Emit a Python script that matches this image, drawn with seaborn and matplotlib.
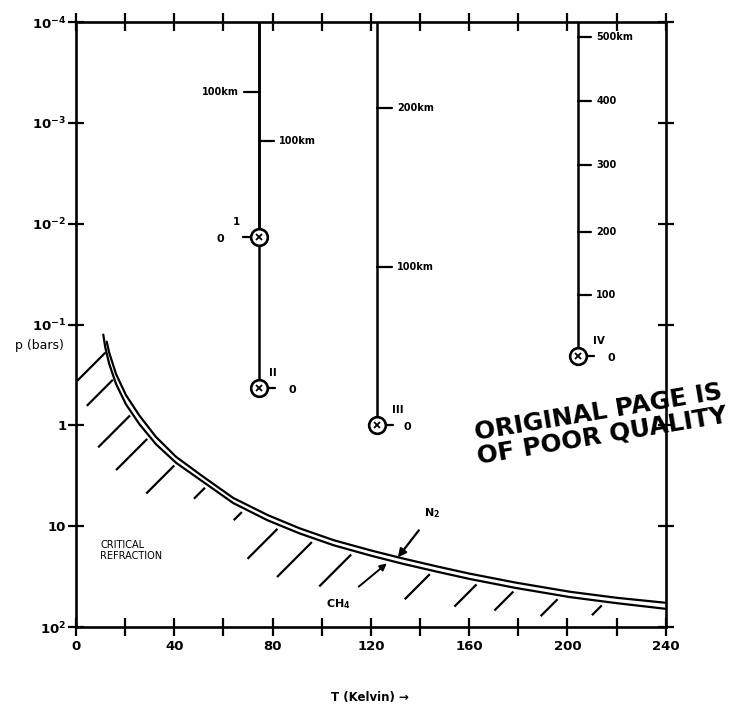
import numpy as np
import matplotlib
matplotlib.use("Agg")
import matplotlib.pyplot as plt
import seaborn as sns
import pandas as pd

# saturation curves, T in K, p in bars
curve_T_n2 = [12.5, 13.5, 16.3, 20.3, 25.8, 32.5, 40.7, 51.5, 64, 78, 91, 105, 120, 133, 147, 160, 179, 201, 220, 240]
curve_p_n2 = [0.148, 0.19, 0.31, 0.50, 0.80, 1.30, 2.05, 3.2, 5.25, 7.76, 10.5, 13.8, 17.4, 20.9, 25.1, 29.5, 36.3, 44.7, 51.3, 57.5]
curve_T_ch4 = [11.1, 11.9, 13.5, 16.3, 20.3, 25.8, 32.5, 40.7, 51.5, 64, 78, 91, 105, 120, 133, 147, 160, 179, 201, 220, 240]
curve_p_ch4 = [0.126, 0.168, 0.245, 0.389, 0.617, 0.973, 1.535, 2.35, 3.6, 5.9, 8.75, 11.8, 15.5, 19.6, 23.6, 28.3, 33.3, 41.0, 50.5, 58.0, 66.0]

# hatching under the curve (T where each stroke meets the curve, stroke length in K)
hatch_T = [12, 15, 22, 29, 40, 52.5, 67.5, 82, 96, 112, 144, 163, 178, 196, 214]
hatch_len = [11.5, 10.6, 13, 12.7, 11.4, 4.5, 3.3, 12.2, 14.2, 13, 10.2, 9, 7.7, 6.9, 4]

# atmosphere profiles: temperature and surface pressure
prof_names = ["1", "II", "III", "IV"]
prof_T = [74.5, 74.5, 122.5, 204.5]
prof_p0 = [0.0136, 0.43, 1.0, 0.206]
prof_side = [-1, 1, 1, 1]

# altitude marks along each profile
km_p = [[5e-4], [1.5e-3], [0.027, 7.2e-4], [0.051, 0.0121, 2.6e-3, 6.1e-4, 1.4e-4]]
km_lab = [["100km"], ["100km"], ["100km", "200km"], ["100", "200", "300", "400", "500km"]]

x_ticks = list(range(0, 241, 20))
x_labels = [str(t) if t % 40 == 0 else "" for t in x_ticks]
y_ticks = [1e-4, 1e-3, 1e-2, 1e-1, 1, 10, 100]
y_labels = [r"$10^{-4}$", r"$10^{-3}$", r"$10^{-2}$", r"$10^{-1}$", "1", "10", r"$10^{2}$"]

sns.set_style("ticks")
plt.rcParams["font.family"] = ["DejaVu Sans"]
plt.rcParams["mathtext.default"] = "bf"
plt.rcParams["text.color"] = "black"
plt.rcParams["xtick.color"] = "black"
plt.rcParams["ytick.color"] = "black"

fig = plt.figure(figsize=(7.38, 7.08), dpi=100)
ax = fig.add_axes([0.103, 0.1144, 0.799, 0.8545])

df_n2 = pd.DataFrame({"T": curve_T_n2, "p": curve_p_n2})
df_ch4 = pd.DataFrame({"T": curve_T_ch4, "p": curve_p_ch4})
sns.lineplot(data=df_n2, x="T", y="p", ax=ax, color="black", lw=1.6, sort=False)
sns.lineplot(data=df_ch4, x="T", y="p", ax=ax, color="black", lw=1.6, sort=False)

ax.set_yscale("log")
ax.set_xlim(0, 240)
ax.set_ylim(100, 1e-4)

# hatch strokes at 45 degrees below the curve
for t, L in zip(hatch_T, hatch_len):
    p_top = np.interp(t, curve_T_ch4, curve_p_ch4) * 10 ** 0.04
    p_bot = p_top * 10 ** (0.0244 * L)
    ax.plot([t, t - L], [p_top, p_bot], color="black", lw=1.6, solid_capstyle="butt")

# profiles
for i in range(4):
    T = prof_T[i]
    p0 = prof_p0[i]
    s = prof_side[i]
    ax.plot([T, T], [1e-4, p0], color="black", lw=1.8, zorder=3)
    tl = 5 if i == 3 else 6
    for p, lab in zip(km_p[i], km_lab[i]):
        ax.plot([T, T + s * tl], [p, p], color="black", lw=1.6)
        ax.text(T + s * (tl + 2.2), p, lab, ha="left" if s > 0 else "right", va="center",
                fontsize=7, fontweight="bold")

# surface points
name_dx = [-16, 10, 15, 15]
zero_dx = [-28, 24, 22, 24]
for i in range(4):
    T = prof_T[i]
    p0 = prof_p0[i]
    s = prof_side[i]
    ax.plot([T + s * 2.5, T + s * 6.5], [p0, p0], color="black", lw=1.6, zorder=3)
    ax.plot(T, p0, marker="o", ms=12, mfc="white", mec="black", mew=1.9, zorder=4)
    ax.plot(T, p0, marker="x", ms=5, mec="black", mew=1.3, zorder=5)
    ax.annotate("0", (T, p0), xytext=(zero_dx[i], -1), textcoords="offset points",
                ha="center", va="center", fontsize=8, fontweight="bold")
    ax.annotate(prof_names[i], (T, p0), xytext=(name_dx[i], 11), textcoords="offset points",
                ha="center", va="center", fontsize=7.5, fontweight="bold")

# curve labels
ax.annotate("N$_2$", xy=(131, 20.4), xytext=(144.8, 7.5), fontsize=8, fontweight="bold",
            ha="center", va="center",
            arrowprops=dict(arrowstyle="-|>", color="black", lw=1.6, shrinkA=6, shrinkB=0,
                            mutation_scale=12))
ax.annotate("CH$_4$", xy=(126.5, 23.4), xytext=(106.6, 59), fontsize=8, fontweight="bold",
            ha="center", va="center",
            arrowprops=dict(arrowstyle="-|>", color="black", lw=1.4, shrinkA=8, shrinkB=0,
                            mutation_scale=10))
ax.text(9.8, 17.4, "CRITICAL\nREFRACTION", fontsize=7, ha="left", va="center", linespacing=1.1)

# axes styling
for sp in ax.spines.values():
    sp.set_linewidth(1.9)
    sp.set_color("black")
ax.set_xticks(x_ticks)
ax.set_xticklabels(x_labels, fontsize=9.5, fontweight="bold")
ax.set_yticks(y_ticks)
ax.set_yticklabels(y_labels, fontsize=9.5, fontweight="bold")
ax.minorticks_off()
ax.tick_params(axis="x", which="major", direction="inout", length=13, width=1.6,
               top=True, bottom=True, pad=3)
ax.tick_params(axis="y", which="major", direction="inout", length=12, width=1.6,
               left=True, right=True, pad=1)
ax.set_xlabel("")
ax.set_ylabel("")

ax.text(-0.062, 0.466, "p (bars)", transform=ax.transAxes, ha="center", va="center", fontsize=9)
ax.text(0.498, -0.116, "T (Kelvin) \u2192", transform=ax.transAxes, ha="center", va="center",
        fontsize=8.5, fontweight="bold")

fig.text(0.813, 0.401, "ORIGINAL PAGE IS\nOF POOR QUALITY", rotation=9.5, ha="center", va="center",
         fontsize=17.8, fontweight="bold", linespacing=1.0, rotation_mode="anchor")

fig.savefig("out.png", dpi=100)
